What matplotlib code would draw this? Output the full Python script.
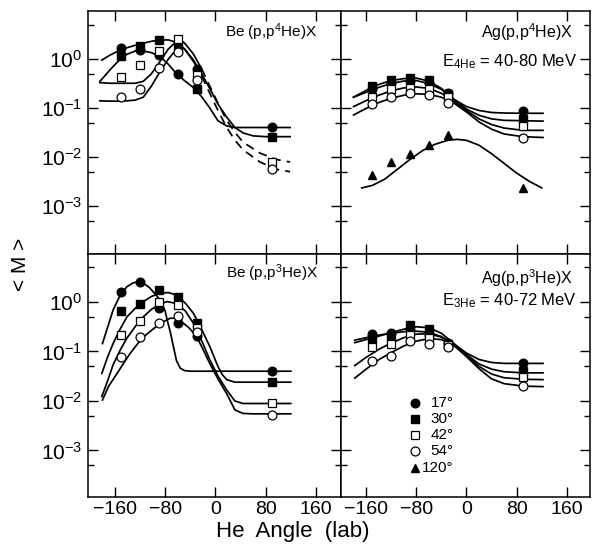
import matplotlib
matplotlib.use("Agg")
import matplotlib.pyplot as plt
from matplotlib.ticker import FixedLocator, LogLocator, NullFormatter, LogFormatterSciNotation

plt.rcParams['font.family'] = ['Liberation Sans', 'DejaVu Sans']
plt.rcParams['mathtext.fontset'] = 'custom'
plt.rcParams['mathtext.rm'] = 'Liberation Sans'
plt.rcParams['mathtext.it'] = 'Liberation Sans'
plt.rcParams['mathtext.bf'] = 'Liberation Sans'

# measured He angles (lab) for every panel
angles = [-150, -120, -90, -60, -30, 90]

# ---- Be(p,p4He)X ----
be4_pts = {
    '17': [1.7, 1.5, 1.2, 0.49, 0.62, 0.041],
    '30': [1.15, 1.87, 2.4, 1.9, 0.24, 0.026],
    '42': [0.42, 0.75, 1.45, 2.6, 0.47, 0.0078],
    '54': [0.165, 0.25, 0.67, 1.4, 0.37, 0.0056],
}
be4_x17 = [-184, -168, -155, -141, -128, -115, -102, -88, -75, -62, -49, -35, -22, -9, 4, 18, 31, 60, 119]
be4_fit17 = [0.35, 0.6, 0.9, 1.25, 1.45, 1.45, 1.35, 1.12, 0.78, 0.5, 0.36, 0.26, 0.17, 0.1, 0.055, 0.043, 0.04, 0.04, 0.04]
be4_x30 = [-181, -168, -155, -141, -128, -115, -102, -88, -75, -62, -49, -35, -22, -9, 4, 18, 31, 44, 60, 80, 119]
be4_fit30 = [0.95, 1.2, 1.45, 1.7, 1.9, 2.1, 2.3, 2.45, 2.45, 2.2, 1.6, 0.95, 0.5, 0.25, 0.12, 0.065, 0.04,
             0.031, 0.027, 0.026, 0.026]
be4_x42 = [-184, -168, -155, -141, -128, -115, -102, -88, -75, -62, -55, -49, -35, -22,
           -9, 4, 18, 31, 44, 71, 97, 119]
be4_fit42 = [0.33, 0.32, 0.32, 0.32, 0.32, 0.35, 0.5, 0.9, 1.6, 2.3, 2.4, 2.1, 1.26, 0.63,
             0.28, 0.126, 0.056, 0.032, 0.02, 0.012, 0.0089, 0.0079]
be4_fit54 = [0.14, 0.138, 0.138, 0.14, 0.145, 0.166, 0.28, 0.56, 1.0, 1.58, 1.78, 1.58, 0.89, 0.45,
             0.2, 0.089, 0.04, 0.022, 0.014, 0.0079, 0.0056, 0.005]

# ---- Ag(p,p4He)X ----
ag4_pts = {
    '17': [0.25, 0.32, 0.35, 0.32, 0.2, 0.087],
    '30': [0.28, 0.37, 0.41, 0.37, 0.195, 0.06],
    '42': [0.17, 0.24, 0.26, 0.25, 0.17, 0.042],
    '54': [0.12, 0.166, 0.2, 0.186, 0.126, 0.024],
    '120': [0.0043, 0.0078, 0.0117, 0.0174, 0.028, 0.0023],
}
ag4_x = [-180, -160, -140, -120, -100, -80, -60, -40, -20, 0, 20, 40, 60, 90, 122]
ag4_fit = {
    '17': [0.166, 0.209, 0.263, 0.316, 0.355, 0.363, 0.316, 0.24, 0.151, 0.107, 0.089, 0.081, 0.079, 0.078, 0.078],
    '30': [0.166, 0.229, 0.302, 0.363, 0.398, 0.407, 0.355, 0.251, 0.151, 0.095, 0.071, 0.06, 0.056, 0.055, 0.054],
    '42': [0.107, 0.141, 0.182, 0.224, 0.257, 0.269, 0.251, 0.2, 0.138, 0.089, 0.06, 0.046, 0.039, 0.035, 0.035],
    '54': [0.072, 0.098, 0.129, 0.158, 0.182, 0.195, 0.19, 0.166, 0.126, 0.083, 0.052, 0.037, 0.0295, 0.026, 0.025],
}
ag4_x120 = [-167, -150, -130, -110, -90, -70, -50, -30, -15, 0, 20, 40, 60, 80, 100, 120]
ag4_fit120 = [0.00234, 0.00263, 0.00355, 0.00562, 0.0089, 0.0135, 0.0182, 0.0219, 0.0229, 0.0219,
              0.0174, 0.0117, 0.0074, 0.0047, 0.0032, 0.00234]

# ---- Be(p,p3He)X ----
be3_pts = {
    '17': [1.62, 2.57, 0.76, 0.37, 0.21, 0.041],
    '30': [0.66, 0.93, 1.78, 1.29, 0.38, 0.024],
    '42': [0.22, 0.42, 1.0, 0.85, 0.3, 0.0089],
    '54': [0.079, 0.195, 0.37, 0.52, 0.25, 0.0052],
}
be3_x17 = [-180, -172, -163, -152, -141, -132, -124, -115, -105, -95, -88, -80, -77, -72, -67, -62, -56, -49, -40, 40, 120]
be3_fit17 = [0.145, 0.3, 0.69, 1.35, 2.04, 2.4, 2.57, 2.4, 1.95, 1.4, 1.1, 0.65, 0.44, 0.25, 0.126, 0.065,
             0.046, 0.041, 0.04, 0.04, 0.04]
be3_x30 = [-181, -172, -163, -152, -141, -128, -115, -102, -88, -75, -62, -48, -35, -22, -9, 4, 11, 18, 31, 120]
be3_fit30 = [0.036, 0.076, 0.145, 0.28, 0.5, 0.74, 1.02, 1.29, 1.51, 1.55, 1.38, 0.95, 0.59, 0.28, 0.126,
             0.05, 0.034, 0.027, 0.024, 0.024]
be3_x42 = [-181, -172, -163, -152, -141, -128, -115, -102, -88, -77, -62, -48, -35, -22, -9, 4, 18, 31, 44, 120]
be3_fit42 = [0.0123, 0.025, 0.054, 0.105, 0.186, 0.316, 0.5, 0.71, 0.91, 1.02, 0.93, 0.66, 0.37, 0.166,
             0.068, 0.032, 0.0166, 0.01, 0.0089, 0.0089]
be3_x54 = [-180, -170, -158, -147, -136, -125, -115, -100, -88, -72, -62, -54, -42, -30, -20, -9, 4, 18, 31,
           44, 60, 120]
be3_fit54 = [0.0105, 0.02, 0.034, 0.056, 0.091, 0.138, 0.195, 0.28, 0.37, 0.47, 0.47, 0.4, 0.3, 0.2, 0.112,
             0.057, 0.028, 0.014, 0.0066, 0.0056, 0.0055, 0.0055]

# ---- Ag(p,p3He)X ----
ag3_pts = {
    '17': [0.224, 0.234, 0.27, 0.214, 0.151, 0.059],
    '30': [0.178, 0.195, 0.347, 0.282, 0.141, 0.041],
    '42': [0.126, 0.141, 0.22, 0.186, 0.135, 0.031],
    '54': [0.065, 0.081, 0.162, 0.145, 0.126, 0.02],
}
ag3_x = [-178, -160, -140, -120, -100, -80, -60, -40, -20, 0, 20, 40, 60, 90, 122]
ag3_fit = {
    '17': [0.17, 0.19, 0.214, 0.234, 0.251, 0.257, 0.245, 0.2, 0.141, 0.093, 0.069, 0.06, 0.0575, 0.0575, 0.0575],
    '30': [0.151, 0.174, 0.204, 0.24, 0.282, 0.316, 0.302, 0.234, 0.145, 0.087, 0.056, 0.044, 0.039, 0.037, 0.037],
    '42': [0.052, 0.076, 0.11, 0.148, 0.19, 0.224, 0.229, 0.195, 0.138, 0.083, 0.05, 0.035, 0.0295, 0.0275, 0.027],
    '54': [0.029, 0.044, 0.068, 0.095, 0.129, 0.162, 0.182, 0.174, 0.132, 0.079, 0.045, 0.028, 0.0224, 0.02, 0.0195],
}

legend_labels = ['17°', '30°', '42°', '54°', '120°']
xticks = [-160, -80, 0, 80, 160]

# marker look for each emission angle
mstyle = {
    '17': dict(marker='o', mfc='black', mec='black', ms=6.2),
    '30': dict(marker='s', mfc='black', mec='black', ms=5.6),
    '42': dict(marker='s', mfc='white', mec='black', ms=5.6, mew=0.9),
    '54': dict(marker='o', mfc='white', mec='black', ms=6.4, mew=0.9),
    '120': dict(marker='^', mfc='black', mec='black', ms=6.2),
}

W, H = 592, 554
fig = plt.figure(figsize=(W / 100, H / 100), dpi=100)


def box(x0, y0, x1, y1):
    return [x0 / W, 1 - y1 / H, (x1 - x0) / W, (y1 - y0) / H]


ax_tl = fig.add_axes(box(88, 11, 341, 254))
ax_tr = fig.add_axes(box(341, 11, 590, 254))
ax_bl = fig.add_axes(box(88, 254, 341, 497))
ax_br = fig.add_axes(box(341, 254, 590, 497))

lw = 1.25


def fit(ax, x, y, ls='-'):
    ax.plot(x, y, color='black', lw=lw, ls=ls, zorder=2)


def points(ax, data):
    for key, vals in data.items():
        ax.plot(angles, vals, ls='none', zorder=3, **mstyle[key])


# Be(p,p4He)X: the two larger angles turn dashed past -22 deg
fit(ax_tl, be4_x17, be4_fit17)
fit(ax_tl, be4_x30, be4_fit30)
cut = be4_x42.index(-22)
for vals in (be4_fit42, be4_fit54):
    fit(ax_tl, be4_x42[:cut + 1], vals[:cut + 1])
    fit(ax_tl, be4_x42[cut:], vals[cut:], ls=(0, (5, 3.5)))
points(ax_tl, be4_pts)

for key in ag4_fit:
    fit(ax_tr, ag4_x, ag4_fit[key])
fit(ax_tr, ag4_x120, ag4_fit120)
points(ax_tr, ag4_pts)

fit(ax_bl, be3_x17, be3_fit17)
fit(ax_bl, be3_x30, be3_fit30)
fit(ax_bl, be3_x42, be3_fit42)
fit(ax_bl, be3_x54, be3_fit54)
points(ax_bl, be3_pts)

for key in ag3_fit:
    fit(ax_br, ag3_x, ag3_fit[key])
points(ax_br, ag3_pts)

for ax in (ax_tl, ax_tr, ax_bl, ax_br):
    ax.set_yscale('log')
    ax.yaxis.set_major_locator(FixedLocator([1e-3, 1e-2, 1e-1, 1e0]))
    ax.yaxis.set_major_formatter(LogFormatterSciNotation())
    ax.yaxis.set_minor_locator(LogLocator(base=10, subs=(5,), numticks=20))
    ax.yaxis.set_minor_formatter(NullFormatter())
    ax.set_xticks(xticks)
    ax.tick_params(which='both', direction='in', top=True, right=True, width=1.0, color='black')
    ax.tick_params(which='major', length=7.5)
    ax.tick_params(which='minor', length=4.5)
    ax.tick_params(axis='x', labelsize=14, pad=3)
    ax.tick_params(axis='y', labelsize=15, pad=4)
    for s in ax.spines.values():
        s.set_linewidth(1.1)

ax_tl.set_xlim(-203, 200)
ax_bl.set_xlim(-203, 200)
ax_tr.set_xlim(-200, 197)
ax_br.set_xlim(-200, 197)
ax_tl.set_ylim(10 ** -3.98, 10 ** 0.98)
ax_tr.set_ylim(10 ** -3.98, 10 ** 0.98)
ax_bl.set_ylim(10 ** -3.94, 10 ** 0.97)
ax_br.set_ylim(10 ** -3.94, 10 ** 0.97)

for ax in (ax_tl, ax_tr):
    ax.tick_params(axis='x', labelbottom=False)
for ax in (ax_tr, ax_br):
    ax.tick_params(axis='y', labelleft=False)

# panel captions
ax_tl.text(0.905, 0.914, r'Be (p,p$^4$He)X', transform=ax_tl.transAxes, ha='right', va='center', fontsize=11)
ax_tr.text(0.932, 0.914, r'Ag(p,p$^4$He)X', transform=ax_tr.transAxes, ha='right', va='center', fontsize=11.5)
ax_tr.text(0.948, 0.79, r'E$_{4\mathrm{He}}$ = 40-80 MeV', transform=ax_tr.transAxes, ha='right', va='center',
           fontsize=12)
ax_bl.text(0.909, 0.922, r'Be (p,p$^3$He)X', transform=ax_bl.transAxes, ha='right', va='center', fontsize=11)
ax_br.text(0.932, 0.902, r'Ag(p,p$^3$He)X', transform=ax_br.transAxes, ha='right', va='center', fontsize=11.5)
ax_br.text(0.948, 0.81, r'E$_{3\mathrm{He}}$ = 40-72 MeV', transform=ax_br.transAxes, ha='right', va='center',
           fontsize=12)

# symbol key
key_y = [0.387, 0.323, 0.255, 0.188, 0.121]
for key, lab, yy in zip(mstyle, legend_labels, key_y):
    ax_br.plot([0.297], [yy], transform=ax_br.transAxes, ls='none', clip_on=False, **mstyle[key])
    ax_br.text(0.452, yy, lab, transform=ax_br.transAxes, ha='right', va='center', fontsize=11)

fig.text(293 / W, 1 - 531 / H, 'He  Angle  (lab)', ha='center', va='center', fontsize=16)
fig.text(20 / W, 1 - 264 / H, '< M >', ha='center', va='center', rotation=90, fontsize=15)

fig.savefig('out.png', dpi=100)
